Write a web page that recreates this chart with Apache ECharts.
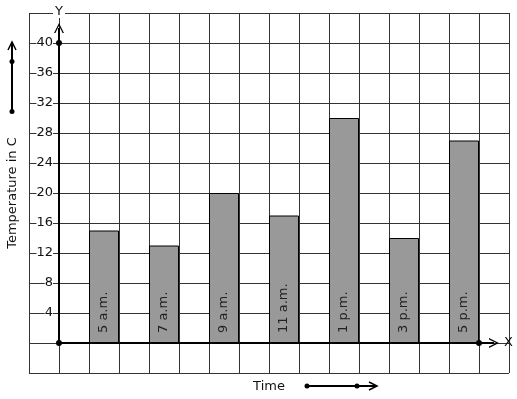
<!DOCTYPE html>
<html><head><meta charset="utf-8">
<script src="https://cdn.jsdelivr.net/npm/echarts@6/dist/echarts.min.js"></script>
<style>html,body{margin:0;padding:0;background:#fff}#c{width:517px;height:399px}</style>
</head><body><div id="c"></div>
<script>
const categories = ['5 a.m.', '7 a.m.', '9 a.m.', '11 a.m.', '1 p.m.', '3 p.m.', '5 p.m.'];
const temps = [15, 13, 20, 17, 30, 14, 27];
const yTickLabels = [4, 8, 12, 16, 20, 24, 28, 32, 36, 40];

const FONT = 'DejaVu Sans';
const chevron = 'path://M0,10 L5,0 L10,10 L8.6,10 L5,2.8 L1.4,10 Z';

const chart = echarts.init(document.getElementById('c'), null, {renderer: 'canvas'});
chart.setOption({
  animation: false,
  backgroundColor: '#fff',
  textStyle: {fontFamily: FONT},
  grid: {left: 29, top: 13, width: 480, height: 360, show: false, containLabel: false, outerBoundsMode: 'none'},
  xAxis: {
    type: 'value', min: -1, max: 15, interval: 1, position: 'bottom',
    axisLine: {show: false, onZero: false},
    axisTick: {show: false},
    axisLabel: {show: false},
    splitLine: {show: true, lineStyle: {color: '#333', width: 1}},
    name: 'Time', nameLocation: 'middle', nameGap: 7,
    nameTextStyle: {color: '#111', fontSize: 13, fontFamily: FONT}
  },
  yAxis: {
    type: 'value', min: -4, max: 44, interval: 4, position: 'left',
    axisLine: {show: false, onZero: false},
    axisTick: {show: false},
    axisLabel: {
      show: true, margin: -24, align: 'right', color: '#111', fontSize: 13, fontFamily: FONT,
      backgroundColor: '#fff', padding: [0, 0],
      formatter: v => yTickLabels.indexOf(v) >= 0 ? String(v) : ''
    },
    splitLine: {show: true, lineStyle: {color: '#333', width: 1}},
    name: 'Temperature in C', nameLocation: 'middle', nameGap: 10, nameRotate: 90,
    nameTextStyle: {color: '#111', fontSize: 13, fontFamily: FONT}
  },
  series: [{
    type: 'bar',
    barWidth: 30,
    data: categories.map((c, i) => ({name: c, value: [2 * i + 1.5, temps[i]]})),
    itemStyle: {color: '#999999', borderColor: '#000', borderWidth: 1},
    label: {
      show: true, position: 'insideBottom', rotate: 90, align: 'left', verticalAlign: 'middle',
      distance: 10, color: '#222', fontSize: 13, fontFamily: FONT,
      formatter: p => categories[p.dataIndex]
    },
    markLine: {
      silent: true,
      symbolSize: 10,
      lineStyle: {color: '#000', width: 2, type: 'solid'},
      label: {show: true, position: 'end', color: '#111', fontSize: 13, fontFamily: FONT},
      data: [
        [{coord: [0, 0], symbol: 'none'}, {coord: [0, 42], symbol: chevron, label: {formatter: 'Y', distance: 10, backgroundColor: '#fff', padding: [0, 2]}}],
        [{coord: [0, 0], symbol: 'none'}, {coord: [14.5, 0], symbol: chevron, label: {formatter: 'X', distance: 10}}]
      ]
    },
    markPoint: {
      silent: true,
      symbol: 'circle', symbolSize: 6,
      itemStyle: {color: '#000'},
      label: {show: false},
      data: [{coord: [0, 0]}, {coord: [0, 40]}, {coord: [14, 0]}]
    }
  }],
  graphic: [
    {type: 'line', shape: {x1: 12, y1: 112, x2: 12, y2: 43}, style: {stroke: '#000', lineWidth: 2}},
    {type: 'polyline', shape: {points: [[8, 50], [12, 42], [16, 50]]}, style: {stroke: '#000', lineWidth: 1.5, fill: null}},
    {type: 'circle', shape: {cx: 12, cy: 61.5, r: 2.5}, style: {fill: '#000'}},
    {type: 'circle', shape: {cx: 12, cy: 111.5, r: 2.5}, style: {fill: '#000'}},
    {type: 'line', shape: {x1: 307, y1: 386, x2: 376, y2: 386}, style: {stroke: '#000', lineWidth: 2}},
    {type: 'polyline', shape: {points: [[369, 382], [377, 386], [369, 390]]}, style: {stroke: '#000', lineWidth: 1.5, fill: null}},
    {type: 'circle', shape: {cx: 307, cy: 386, r: 2.5}, style: {fill: '#000'}},
    {type: 'circle', shape: {cx: 357, cy: 386, r: 2.5}, style: {fill: '#000'}}
  ]
});
</script></body></html>
